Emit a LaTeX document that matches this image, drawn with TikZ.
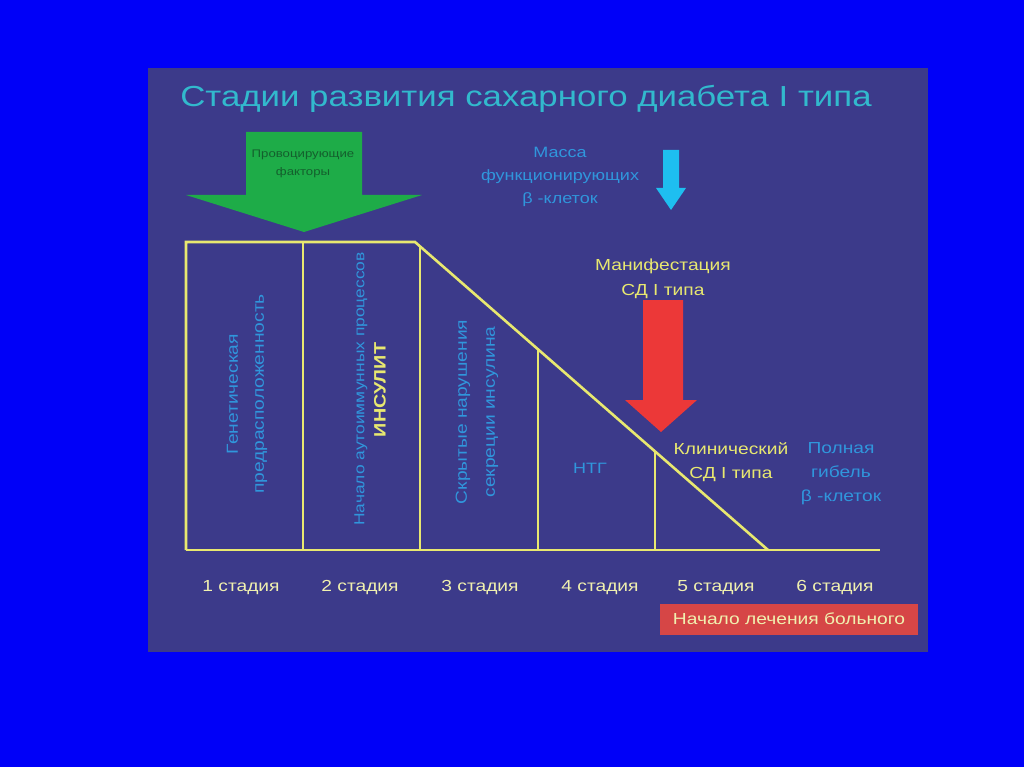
\documentclass[tikz,border=0pt]{standalone}
\usepackage{fontspec}
\setmainfont{Liberation Sans}[FakeStretch=1.2]
\usetikzlibrary{positioning}
\definecolor{pageblue}{RGB}{0,0,248}
\definecolor{panel}{RGB}{60,58,138}
\definecolor{ylw}{RGB}{232,232,112}
\definecolor{paleylw}{RGB}{240,240,175}
\definecolor{lblue}{RGB}{48,150,220}
\definecolor{titlecyan}{RGB}{50,185,205}
\definecolor{grn}{RGB}{30,172,72}
\definecolor{dkgrn}{RGB}{20,95,45}
\definecolor{arrcyan}{RGB}{30,190,240}
\definecolor{arrred}{RGB}{236,56,56}
\definecolor{boxred}{RGB}{214,70,70}

\begin{document}
\begin{tikzpicture}[x=1pt, y=-1pt,
  yline/.style={draw=ylw, line width=2.6pt},
  stagelbl/.style={text=paleylw, font=\fontsize{16}{18}\selectfont},
  vtext/.style={text=lblue, rotate=90, align=center, font=\fontsize{16}{26}\selectfont},
  note/.style={align=center, font=\fontsize{16}{24}\selectfont}]
\useasboundingbox (0,0) rectangle (1024,767);
\fill[pageblue] (0,0) rectangle (1024,767);
\fill[panel] (148,68) rectangle (928,652);

% Title
\node[text=titlecyan, font=\fontsize{29}{34}\selectfont] (title) at (526,99) {Стадии развития сахарного диабета I типа};

% Provoking factors arrow
\fill[grn] (246,132) -- (362,132) -- (362,195) -- (422,195) -- (304,232) -- (186,195) -- (246,195) -- cycle;
\node[text=dkgrn, align=center, font=\fontsize{11}{18}\selectfont] (prov) at (303,164) {Провоцирующие\\факторы};

% Beta cell mass
\node[note, text=lblue, font=\fontsize{15}{23}\selectfont] (mass) at (560,177) {Масса\\функционирующих\\β -клеток};
\fill[arrcyan] (663,150) -- (679,150) -- (679,188) -- (686,188) -- (671,210) -- (656,188) -- (663,188) -- cycle;

% Stage diagram
\draw[yline] (186,550) -- (186,242) -- (415,242) -- (768,550);
\draw[yline] (186,550) -- (880,550);
\draw[yline] (303,242) -- (303,550);
\draw[yline] (420,246) -- (420,550);
\draw[yline] (538,349) -- (538,550);
\draw[yline] (655,451) -- (655,550);

\node[vtext] (gen) at (247,394) {Генетическая\\предрасположенность};
\node[vtext, font=\fontsize{14.5}{18}\selectfont] (auto) at (361,389) {Начало аутоиммунных процессов};
\node[rotate=90, text=ylw, font=\bfseries\fontsize{16.5}{18}\selectfont] (insul) at (380,390) {ИНСУЛИТ};
\node[vtext, font=\fontsize{16}{28}\selectfont] (hidden) at (477,412) {Скрытые нарушения\\секреции инсулина};
\node[text=lblue, font=\fontsize{15}{16}\selectfont] (ntg) at (590,468) {НТГ};

% Manifestation
\node[note, text=ylw, font=\fontsize{16}{25}\selectfont] (manif) at (663,279) {Манифестация\\СД I типа};
\fill[arrred] (643,300) -- (683,300) -- (683,400) -- (697,400) -- (661,432) -- (625,400) -- (643,400) -- cycle;
\node[note, text=ylw] (clin) at (731,462) {Клинический\\СД I типа};
\node[note, text=lblue] (death) at (841,474) {Полная\\гибель\\β -клеток};

% Stages
\node[stagelbl] (s1) at (241,588) {1 стадия};
\node[stagelbl] (s2) at (360,588) {2 стадия};
\node[stagelbl] (s3) at (480,588) {3 стадия};
\node[stagelbl] (s4) at (600,588) {4 стадия};
\node[stagelbl] (s5) at (716,588) {5 стадия};
\node[stagelbl] (s6) at (835,588) {6 стадия};

\node[fill=boxred, text=paleylw, minimum width=258pt, minimum height=31pt, inner sep=0pt, font=\fontsize{16}{18}\selectfont] (treat) at (789,619) {Начало лечения больного};
\end{tikzpicture}
\end{document}
